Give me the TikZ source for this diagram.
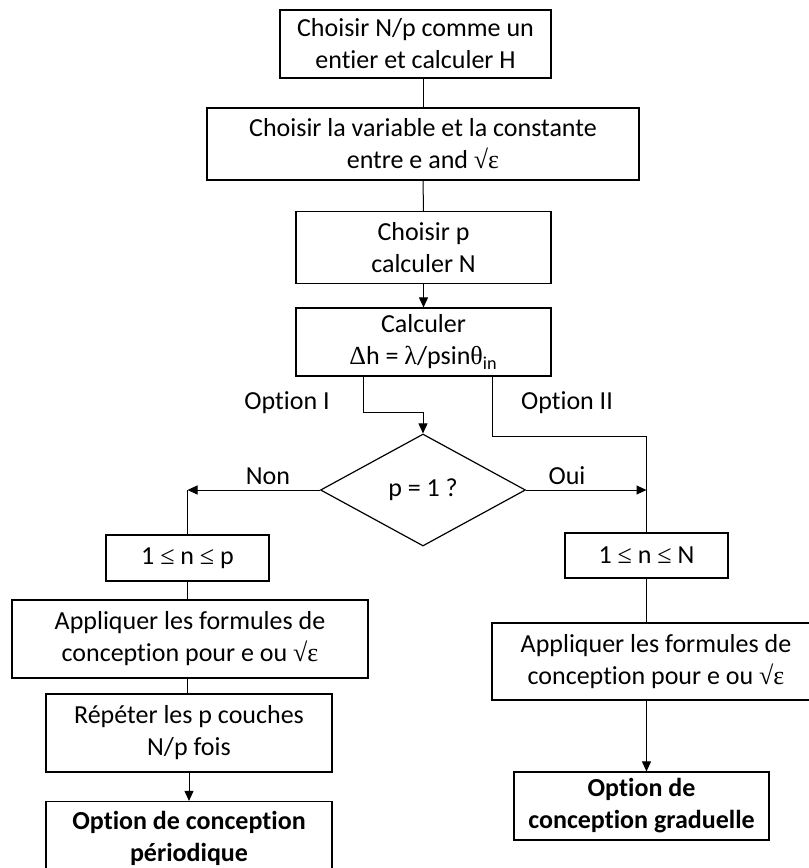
\documentclass[tikz,border=0pt]{standalone}
\usepackage{fontspec}
\setmainfont{Carlito}[Ligatures=NoCommon]
\newfontfamily\symfont{Liberation Serif}
\usetikzlibrary{arrows.meta, positioning, shapes.geometric, calc}
\newcommand{\sym}[1]{{\symfont #1}}
\newcommand{\fsz}{\fontsize{13}{16}\selectfont}
\tikzset{
  arrowK/.style={-{Triangle[length=5pt, width=4.5pt]}, line width=0.5pt},
  lineK/.style={line width=0.5pt},
  boxK/.style={rectangle, draw, line width=0.6pt, align=center,
               font=\fsz, inner sep=0pt},
  boxKb/.style={boxK, font=\fsz\bfseries},
  decK/.style={diamond, draw, line width=0.6pt, align=center,
               font=\fsz, inner sep=0pt},
  lblK/.style={font=\fsz, inner sep=0pt},
}

\begin{document}
\begin{tikzpicture}[x=0.5pt, y=-0.5pt]
    \useasboundingbox (0,0) rectangle (809,868);
    %% Tronc commun
    \node[boxK, minimum width=135.5pt, minimum height=34pt] (choix) at (415.5,44)
         {Choisir N/p comme un\\entier et calculer H};
    \node[boxK, minimum width=216pt, minimum height=36pt] (var) at (423,144)
         {Choisir la variable et la constante\\entre e and \sym{√ε}};
    \node[boxK, minimum width=127.5pt, minimum height=36pt] (choixp) at (423.5,247.5)
         {Choisir p\\calculer N};
    \node[boxK, minimum width=127.5pt, minimum height=34pt] (calc) at (423.5,342)
         {Calculer\\\sym{Δ}h = \sym{λ}/psin\sym{θ}\textsubscript{in}};
    \draw[lineK] (var.north |- choix.south) -- (var.north);
    \draw[lineK] (var) -- (choixp);
    \draw[arrowK] (choixp) -- (calc);

    %% Option I : test sur p
    \node[decK, minimum width=102.5pt, minimum height=56pt] (test) at (423,490) {p = 1 ?};
    \node[lblK] (lblI) at (287,403) {Option I};
    \node[lblK] (lblII) at (567,403) {Option II};
    \coordinate (o1) at (363,412);
    \coordinate (o2) at (492,436);
    \draw[arrowK] (calc.south -| o1) -- (o1) -| (test.north);

    %% Branche Non (periodique)
    \node[boxK, minimum width=81.5pt, minimum height=23pt] (np) at (187.5,558)
         {1 \sym{≤} n \sym{≤} p};
    \node[boxK, minimum width=178pt, minimum height=39pt] (appL) at (190,639)
         {Appliquer les formules de\\conception pour e ou \sym{√ε}};
    \node[boxK, minimum width=143pt, minimum height=39pt] (rep) at (189,733)
         {Répéter les p couches\\N/p fois};
    \node[boxKb, minimum width=143pt, minimum height=36.5pt] (optP) at (189,838)
         {Option de conception\\périodique};
    \node[lblK] (lblNon) at (268,476) {Non};
    \draw[arrowK] (test.west) -- (test.west -| np.north);
    \draw[lineK] (test.west -| np.north) -- (np.north);
    \draw[lineK] (np.south) -- (np.south |- appL.north);
    \draw[lineK] (np.south |- appL.south) -- (np.south |- rep.north);
    \draw[arrowK] (rep) -- (optP);

    %% Branche Oui / Option II (graduelle)
    \node[boxK, minimum width=81.5pt, minimum height=22.5pt] (nN) at (646.5,555.5)
         {1 \sym{≤} n \sym{≤} N};
    \node[boxK, minimum width=164pt, minimum height=38.5pt] (appR) at (656,661.5)
         {Appliquer les formules de\\conception pour e ou \sym{√ε}};
    \node[boxKb, minimum width=127.5pt, minimum height=34pt] (optG) at (641.5,806)
         {Option de\\conception graduelle};
    \node[lblK] (lblOui) at (567,476) {Oui};
    \draw[lineK] (calc.south -| o2) -- (o2) -- (nN.north |- o2) -- (nN.north);
    \draw[arrowK] (test.east) -- (test.east -| nN.north);
    \draw[lineK] (nN.south) -- (nN.south |- appR.north);
    \draw[arrowK] (nN.south |- appR.south) -- (nN.south |- optG.north);
\end{tikzpicture}
\end{document}
